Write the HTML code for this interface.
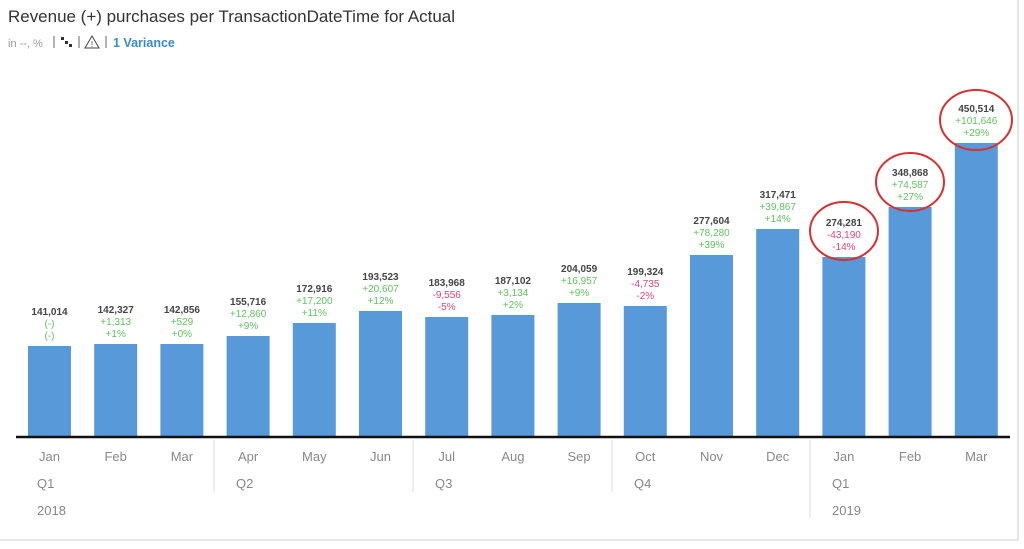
<!DOCTYPE html>
<html><head><style>
body{margin:0;width:1024px;height:544px;background:#fff;overflow:hidden;font-family:"Liberation Sans",sans-serif;}
</style></head><body>
<svg width="1024" height="544" xmlns="http://www.w3.org/2000/svg" font-family="Liberation Sans, sans-serif">
<line x1="1018" y1="0" x2="1018" y2="540" stroke="#ccc"/>
<line x1="0" y1="540" x2="1018" y2="540" stroke="#ccc"/>
<text x="8" y="22" font-size="17" textLength="447" fill="#333">Revenue (+) purchases per TransactionDateTime for Actual</text>
<text x="8" y="47" font-size="11" fill="#999">in --, %</text>
<line x1="54" y1="36" x2="54" y2="48" stroke="#666"/>
<rect x="61" y="37" width="3" height="3" fill="#333"/><rect x="65" y="41" width="3" height="3" fill="#333"/><rect x="69" y="44" width="3" height="3" fill="#333"/>
<line x1="79" y1="36" x2="79" y2="48" stroke="#666"/>
<path d="M92 36 L99 48 L85 48 Z" fill="none" stroke="#444"/><text x="92" y="47" font-size="8" text-anchor="middle" fill="#444">!</text>
<line x1="106" y1="36" x2="106" y2="48" stroke="#666"/>
<text x="113" y="47" font-size="12.5" font-weight="bold" fill="#3a8ad0">1 Variance</text>
<g id="bars"></g>
<line x1="16" y1="437" x2="1010" y2="437" stroke="#111" stroke-width="2.5"/>
<g stroke="#ddd"><line x1="214" y1="440" x2="214" y2="492"/><line x1="413" y1="440" x2="413" y2="492"/><line x1="612" y1="440" x2="612" y2="492"/><line x1="810" y1="440" x2="810" y2="518"/></g>
<g font-size="13" fill="#888" text-anchor="start"><text x="37" y="488">Q1</text><text x="236" y="488">Q2</text><text x="435" y="488">Q3</text><text x="634" y="488">Q4</text><text x="832" y="488">Q1</text><text x="37" y="515">2018</text><text x="832" y="515">2019</text></g>
<g fill="none" stroke="#d83030" stroke-width="2"><ellipse cx="844" cy="231" rx="34" ry="29"/><ellipse cx="910" cy="182" rx="34" ry="29"/><ellipse cx="976" cy="120" rx="36" ry="30"/></g>
</svg>
<script>
var d=[["Jan",346,"141,014","(-)","(-)",1],["Feb",344,"142,327","+1,313","+1%",1],["Mar",344,"142,856","+529","+0%",1],["Apr",336,"155,716","+12,860","+9%",1],["May",323,"172,916","+17,200","+11%",1],["Jun",311,"193,523","+20,607","+12%",1],["Jul",317,"183,968","-9,556","-5%",0],["Aug",315,"187,102","+3,134","+2%",1],["Sep",303,"204,059","+16,957","+9%",1],["Oct",306,"199,324","-4,735","-2%",0],["Nov",255,"277,604","+78,280","+39%",1],["Dec",229,"317,471","+39,867","+14%",1],["Jan",257,"274,281","-43,190","-14%",0],["Feb",207,"348,868","+74,587","+27%",1],["Mar",143,"450,514","+101,646","+29%",1]];
var g=document.getElementById("bars"),s="";
d.forEach(function(r,i){var c=49.5+i*66.2,col=r[5]?"#5fc35f":"#e0457a";
s+='<rect x="'+(c-21.5)+'" y="'+r[1]+'" width="43" height="'+(437-r[1])+'" fill="#5899da"/>';
s+='<text x="'+c+'" y="'+(r[1]-31)+'" font-size="10" font-weight="bold" fill="#444" text-anchor="middle">'+r[2]+'</text>';
s+='<text x="'+c+'" y="'+(r[1]-19)+'" font-size="10" fill="'+col+'" text-anchor="middle">'+r[3]+'</text>';
s+='<text x="'+c+'" y="'+(r[1]-7)+'" font-size="10" fill="'+col+'" text-anchor="middle">'+r[4]+'</text>';
s+='<text x="'+c+'" y="461" font-size="13" fill="#888" text-anchor="middle">'+r[0]+'</text>';});
g.innerHTML=s;
</script>
</body></html>
